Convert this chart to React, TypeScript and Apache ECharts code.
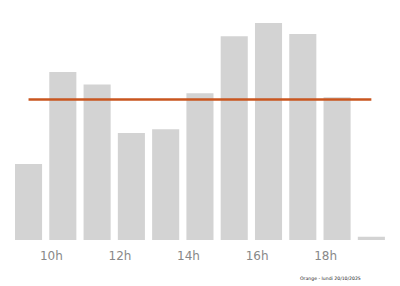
import React, { useEffect, useRef } from "react";
import * as echarts from "echarts";

const hours = ["9h", "10h", "11h", "12h", "13h", "14h", "15h", "16h", "17h", "18h", "19h"];
const values = [35, 77.4, 71.7, 49.3, 51, 67.6, 93.9, 100, 94.9, 65.8, 1.5];
const meanValue = 64.7;
const footer = "Orange - lundi 20/10/2025";

export default function App() {
  const ref = useRef<HTMLDivElement>(null);
  useEffect(() => {
    if (!ref.current) return;
    const chart = echarts.init(ref.current, null, { renderer: "svg" });
    chart.setOption({
      animation: false,
      backgroundColor: "#ffffff",
      grid: { left: 11.4, right: 11.5, top: 23, bottom: 46 },
      xAxis: {
        type: "category",
        data: hours,
        axisLine: { show: false },
        axisTick: { show: false },
        axisLabel: {
          interval: (i: number) => i % 2 === 1,
          align: "right",
          color: "#888888",
          fontSize: 12,
          fontFamily: "DejaVu Sans",
          margin: 10,
        },
      },
      yAxis: {
        type: "value",
        min: 0,
        max: 100,
        show: false,
        splitLine: { show: false },
      },
      series: [
        {
          type: "bar",
          data: values,
          barCategoryGap: "21%",
          itemStyle: { color: "#d3d3d3" },
          markLine: {
            silent: true,
            symbol: "none",
            label: { show: false },
            lineStyle: { color: "#c9561f", width: 2.5, type: "solid" },
            data: [
              [
                { coord: [hours[0], meanValue] },
                { coord: [hours[hours.length - 1], meanValue] },
              ],
            ],
          },
        },
      ],
      graphic: [
        {
          type: "text",
          left: 300,
          top: 275.5,
          style: {
            text: footer,
            fontSize: 4.6,
            fontFamily: "DejaVu Sans",
            fill: "#222222",
          },
        },
      ],
    });
    return () => chart.dispose();
  }, []);
  return <div ref={ref} style={{ width: 400, height: 286, position: "absolute", left: 0, top: 0 }} />;
}
